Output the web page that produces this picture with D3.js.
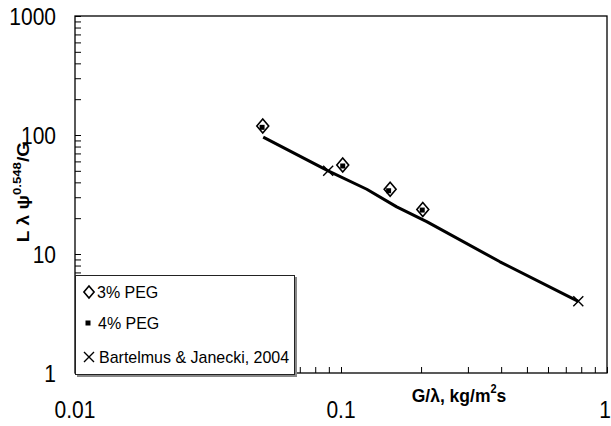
<!DOCTYPE html>
<html>
<head>
<meta charset="utf-8">
<script src="https://cdn.jsdelivr.net/npm/d3@7"></script>
<style>
  html, body { margin: 0; padding: 0; background: #fff; }
  svg { display: block; font-family: Arial, "Liberation Sans", sans-serif; }
</style>
</head>
<body>
<svg id="chart" width="611" height="426"></svg>
<script>
// Flux-scaled liquid load, log-log
const xDomain = [0.01, 1];
const yDomain = [1, 1000];
const xTickLabels = ["0.01", "0.1", "1"];
const yTickLabels = ["1", "10", "100", "1000"];

// 3% PEG
const peg3X = [0.0508, 0.1015, 0.153, 0.203];
const peg3Y = [119, 56, 35, 23.7];
// 4% PEG
const peg4X = [0.0505, 0.1015, 0.151, 0.202];
const peg4Y = [116, 54.9, 34, 23.4];
// Bartelmus & Janecki, 2004
const bjX = [0.0895, 0.78];
const bjY = [50, 4.0];
// correlation curve
const fitX = [0.051, 0.0895, 0.125, 0.162, 0.21, 0.396, 0.78];
const fitY = [96, 50, 35, 24.9, 18.7, 8.6, 4.0];

const legendLabels = ["3% PEG", "4% PEG", "Bartelmus & Janecki, 2004"];

const m = { left: 75, right: 607, top: 16, bottom: 373 };
const svg = d3.select("#chart");

const x = d3.scaleLog().domain(xDomain).range([m.left, m.right]);
const y = d3.scaleLog().domain(yDomain).range([m.bottom, m.top]);

// all decade and sub-decade tick values
const xTicks = x.ticks();
const yTicks = y.ticks();

// inward ticks
const xAxis = d3.axisTop(x).tickValues(xTicks).tickSize(6).tickFormat("");
const yAxis = d3.axisRight(y).tickValues(yTicks).tickSize(6).tickFormat("");

svg.append("g").attr("transform", `translate(0,${m.bottom})`).call(xAxis)
  .call(g => g.select(".domain").remove())
  .selectAll("line").attr("stroke", "#000").attr("stroke-width", 1);
svg.append("g").attr("transform", `translate(${m.left},0)`).call(yAxis)
  .call(g => g.select(".domain").remove())
  .selectAll("line").attr("stroke", "#000").attr("stroke-width", 1);

// frame
svg.append("rect")
  .attr("x", m.left).attr("y", m.top)
  .attr("width", m.right - m.left).attr("height", m.bottom - m.top)
  .attr("fill", "none").attr("stroke", "#000").attr("stroke-width", 1.3);

// tick labels (slightly tall lettering)
svg.append("g").selectAll("text").data(xTickLabels).join("text")
  .attr("transform", (d, i) => i === xTickLabels.length - 1
      ? `translate(611,418) scale(1,1.15)`
      : `translate(${x(+d)},418) scale(1,1.15)`)
  .attr("text-anchor", (d, i) => i === xTickLabels.length - 1 ? "end" : "middle")
  .attr("font-size", 21).text(d => d);

svg.append("g").selectAll("text").data(yTickLabels).join("text")
  .attr("transform", d => `translate(56,${y(+d) + 9}) scale(1,1.15)`)
  .attr("text-anchor", "end")
  .attr("font-size", 21).text(d => d);

// axis titles
const xt = svg.append("text")
  .attr("transform", "translate(459,402) scale(1,1.1)")
  .attr("text-anchor", "middle")
  .attr("font-size", 17.5).attr("font-weight", "bold");
xt.append("tspan").text("G/λ, kg/m");
xt.append("tspan").attr("font-size", 11).attr("dy", -8).text("2");
xt.append("tspan").attr("dy", 8).text("s");

const yt = svg.append("text")
  .attr("transform", "translate(29,192) rotate(-90) scale(1.2,1)")
  .attr("text-anchor", "middle")
  .attr("font-size", 16).attr("font-weight", "bold");
yt.append("tspan").text("L λ ψ");
yt.append("tspan").attr("font-size", 11).attr("dy", -8).text("0.548");
yt.append("tspan").attr("dy", 8).text("/G");

// correlation curve
const fit = fitX.map((v, i) => [v, fitY[i]]);
svg.append("path")
  .datum(fit)
  .attr("d", d3.line().x(d => x(d[0])).y(d => y(d[1])))
  .attr("fill", "none").attr("stroke", "#000")
  .attr("stroke-width", 3).attr("stroke-linejoin", "round");

// marker helpers
function diamond(g, cx, cy, r) {
  g.append("path")
    .attr("d", `M${cx},${cy - r}L${cx + r * 0.85},${cy}L${cx},${cy + r}L${cx - r * 0.85},${cy}Z`)
    .attr("fill", "#fff").attr("stroke", "#000").attr("stroke-width", 1.6);
}
function square(g, cx, cy, s) {
  g.append("rect").attr("x", cx - s / 2).attr("y", cy - s / 2)
    .attr("width", s).attr("height", s).attr("fill", "#000");
}
function cross(g, cx, cy, r) {
  g.append("path")
    .attr("d", `M${cx - r},${cy - r}L${cx + r},${cy + r}M${cx - r},${cy + r}L${cx + r},${cy - r}`)
    .attr("stroke", "#000").attr("stroke-width", 1.4).attr("fill", "none");
}

const marks = svg.append("g");
peg3X.forEach((v, i) => diamond(marks, x(v), y(peg3Y[i]), 7));
peg4X.forEach((v, i) => square(marks, x(v), y(peg4Y[i]), 5));
bjX.forEach((v, i) => cross(marks, x(v), y(bjY[i]), 5));

// legend
const lg = svg.append("g");
lg.append("rect").attr("x", 77).attr("y", 277).attr("width", 220).attr("height", 100)
  .attr("fill", "#888");
lg.append("rect").attr("x", 75.5).attr("y", 275.5).attr("width", 219).attr("height", 99)
  .attr("fill", "#fff").attr("stroke", "#222").attr("stroke-width", 1);
const rows = [292, 323, 357];
diamond(lg, 89, rows[0], 6);
square(lg, 88, rows[1], 5);
cross(lg, 89, rows[2], 5);
lg.selectAll("text.lab").data(legendLabels).join("text")
  .attr("class", "lab")
  .attr("transform", (d, i) => `translate(${[97, 98, 99][i]},${rows[i] + 6}) scale(1,1.05)`)
  .attr("font-size", 16).text(d => d);
</script>
</body>
</html>
